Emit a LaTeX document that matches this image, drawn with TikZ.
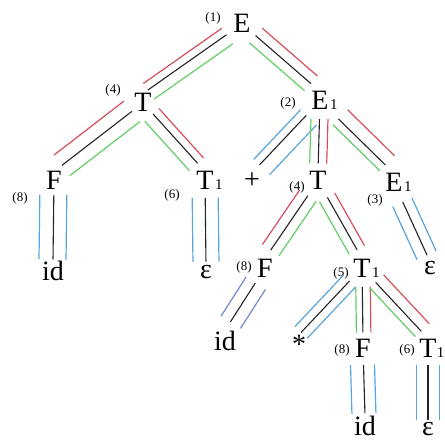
\documentclass[tikz,border=0pt]{standalone}
\usepackage{fontspec}
\setmainfont{Liberation Serif}
\usetikzlibrary{calc}

\definecolor{edgered}{RGB}{214,78,92}
\definecolor{edgegreen}{RGB}{96,206,100}
\definecolor{edgeblue}{RGB}{88,164,222}
\definecolor{edgeviolet}{RGB}{112,136,214}
\definecolor{stemgray}{RGB}{35,35,35}

% small index digit set after a grammar symbol, without moving its centre
\newcommand\subone{\rlap{\kern1.5pt\fontsize{15}{15}\selectfont 1}}
\newcommand\subonetight{\rlap{\kern0.3pt\fontsize{15}{15}\selectfont 1}}

\tikzset{
  sym/.style={font=\fontsize{28}{28}\selectfont, inner sep=0pt, anchor=base},
  ordlabel/.style={font=\fontsize{13}{13}\selectfont, inner sep=0pt},
  stem/.style={draw=stemgray, line width=1.1pt},
  rib/.style={line width=1.2pt},
}

% a tree branch: black stem with a coloured line on each side
% #1 extra options, #2 parent, #3 child,
% #4/#5 colour and gap on the east side, #6/#7 colour and gap on the west side
\newcommand\branch[7][]{%
  \draw[stem,#1] (#2) -- (#3);
  \draw[rib,draw=#4,#1] ($(#2)!#5!90:(#3)$) -- ($(#3)!#5!-90:(#2)$);
  \draw[rib,draw=#6,#1] ($(#2)!#7!-90:(#3)$) -- ($(#3)!#7!90:(#2)$);
}

\begin{document}
\begin{tikzpicture}[x=1pt,y=-1pt]
\useasboundingbox (0,0) rectangle (445,441);

% grammar symbols
\node[sym] (E)    at (242,33)  {E};
\node[sym] (T)    at (143,112) {T};
\node[sym] (Ea)   at (320,110) {E\subone};
\node[sym] (Fa)   at (54,190)  {F};
\node[sym] (Ta)   at (205,190) {T\subone};
\node[sym,anchor=center] (plus) at (252,181) {+};
\node[sym] (Tb)   at (318,190) {T};
\node[sym] (Eb)   at (394,192) {E\subone};
\node[sym] (ida)  at (53,280)  {id};
\node[sym] (epsa) at (206,278) {ε};
\node[sym] (Fb)   at (265,277) {F};
\node[sym] (Tc)   at (362,277) {T\subone};
\node[sym] (epsb) at (430,275) {ε};
\node[sym] (idb)  at (225,350) {id};
\node[sym,anchor=center] (star) at (299,344) {*};
\node[sym] (Fc)   at (363,357) {F};
\node[sym] (Td)   at (428,357) {T\subonetight};
\node[sym] (idc)  at (365,435) {id};
\node[sym] (epsc) at (428,435) {ε};

% step numbers
\node[ordlabel] (o1) at (213,18)  {(1)};
\node[ordlabel] (o2) at (113,90)  {(4)};
\node[ordlabel] (o3) at (288,103) {(2)};
\node[ordlabel] (o4) at (20,198)  {(8)};
\node[ordlabel] (o5) at (172,195) {(6)};
\node[ordlabel] (o6) at (297,187) {(4)};
\node[ordlabel] (o7) at (375,200) {(3)};
\node[ordlabel] (o8) at (244,267) {(8)};
\node[ordlabel] (o9) at (341,273) {(5)};
\node[ordlabel] (o10) at (342,350) {(8)};
\node[ordlabel] (o11) at (407,350) {(6)};

% branches
\branch[shorten <=19pt,shorten >=6pt]{E.center}{T.north}{edgegreen}{11pt}{edgered}{8pt}
\branch[shorten <=18pt,shorten >=12pt]{E.center}{Ea.north}{edgered}{10pt}{edgegreen}{9.5pt}
\branch[shorten <=14pt,shorten >=10pt]{T.center}{Fa.north}{edgegreen}{13pt}{edgered}{13pt}
\branch[shorten <=15pt,shorten >=11pt]{T.center}{Ta.north}{edgered}{8pt}{edgegreen}{11pt}
\branch[shorten <=14pt,shorten >=1pt]{Fa.center}{ida.north}{edgeblue}{13pt}{edgeblue}{14pt}
\branch[shorten <=17pt,shorten >=3pt]{Ta.center}{epsa.north}{edgeblue}{13pt}{edgeblue}{13pt}
\branch[shorten <=20pt,shorten >=11pt]{Ea.center}{plus.north}{edgeblue}{14pt}{edgeblue}{8pt}
\branch[shorten <=18pt,shorten >=8pt]{Ea.center}{Tb.north}{edgered}{8.5pt}{edgegreen}{8.5pt}
\branch[shorten <=26pt,shorten >=12pt]{Ea.center}{Eb.north}{edgered}{13pt}{edgegreen}{8pt}
\branch[shorten <=18pt,shorten >=10pt]{Tb.center}{Fb.north}{edgegreen}{10pt}{edgered}{10pt}
\branch[shorten <=19pt,shorten >=10pt]{Tb.center}{Tc.north}{edgered}{8.5pt}{edgegreen}{9pt}
\branch[shorten <=21pt,shorten >=7pt]{Eb.center}{epsb.north}{edgeblue}{10pt}{edgeblue}{11pt}
\branch[shorten <=18pt,shorten >=10pt]{Fb.center}{idb.north}{edgeviolet}{12pt}{edgeviolet}{11pt}
\branch[shorten <=18pt,shorten >=3pt]{Tc.center}{star.north}{edgeblue}{8.5pt}{edgeblue}{8.5pt}
\branch[shorten <=19pt,shorten >=6pt]{Tc.center}{Fc.north}{edgered}{8pt}{edgegreen}{6.5pt}
\branch[shorten <=20pt,shorten >=10pt]{Tc.center}{Td.north}{edgered}{11pt}{edgegreen}{8pt}
\branch[shorten <=17pt,shorten >=2pt]{Fc.center}{idc.north}{edgeblue}{11pt}{edgeblue}{13pt}
\branch[shorten <=17pt,shorten >=2pt]{Td.center}{epsc.north}{edgeblue}{11.5pt}{edgeblue}{11.5pt}
\end{tikzpicture}
\end{document}
